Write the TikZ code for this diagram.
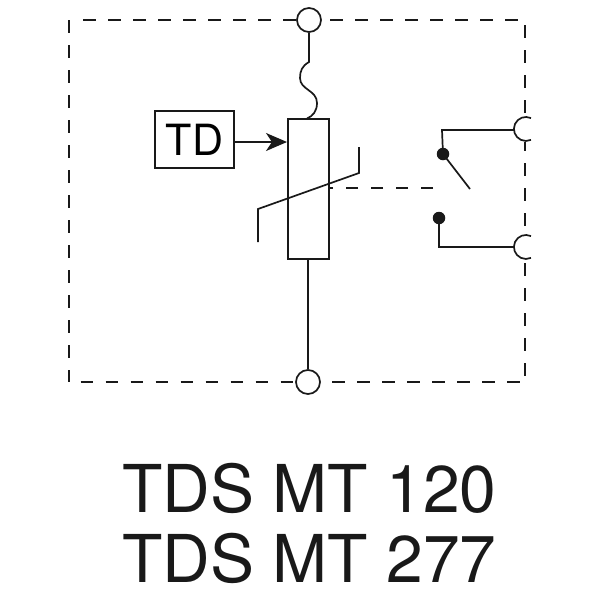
\documentclass[tikz,border=0pt]{standalone}
\usepackage{fontspec}
\setmainfont{TeX Gyre Heros}
\usetikzlibrary{arrows.meta}
\tikzset{
  x=1pt,y=-1pt,
  wire/.style={line width=1.7pt,color=black!90},
  boundary/.style={line width=1.7pt,color=black!90,dash pattern=on 12.7pt off 12.3pt},
  terminal/.style={circle,draw=black!90,fill=white,line width=1.7pt,minimum size=24pt,inner sep=0pt},
  hidden terminal/.style={circle,fill=white,minimum size=24pt,inner sep=0pt},
  contact/.style={circle,fill=black!90,minimum size=12.5pt,inner sep=0pt},
  block/.style={rectangle,draw=black!90,line width=1.7pt,inner sep=0pt},
  title/.style={font=\fontsize{66}{66}\selectfont,text=black!90,inner sep=0pt,anchor=base}
}
\begin{document}
\begin{tikzpicture}
\useasboundingbox (0,0) rectangle (600,600);
\node[terminal] (top) at (309,20) {};
\node[terminal] (bottom) at (308,382) {};
\node[hidden terminal] (no) at (526,129) {};
\node[hidden terminal] (nc) at (526,247) {};
% boundary, one run per stretch between the terminals
\draw[boundary] (83.3,20) -- (top.west);
\draw[boundary] (330,20) -- (518.8,20);
\draw[boundary] (69,20) -- (69,382);
\draw[boundary] (80.7,382) -- (bottom.west);
\draw[boundary] (332,382) -- (520,382);
\draw[boundary] (525,25) -- (525,113);
\draw[boundary,dash phase=3.5pt] (525,141.5) -- (525,235);
\draw[boundary] (525,263) -- (525,378);
\draw[wire] (531,118.1) arc[start angle=65,end angle=295,radius=12pt];
\draw[wire] (531,236.1) arc[start angle=65,end angle=295,radius=12pt];
\node[block,minimum width=79pt,minimum height=57pt,font=\fontsize{43}{43}\selectfont] (td) at (194.5,139.5) {TD};
\node[block,minimum width=41pt,minimum height=140pt] (var) at (308.5,189) {};
\coordinate (fa) at (309,62);
\coordinate (fb) at (307,118.5);
\draw[wire] (top.south) -- (fa) .. controls (302,66) and (300,71) .. (300,78)
  .. controls (300,90) and (317,90) .. (317,103) .. controls (317,111) and (313,116) .. (fb);
\draw[wire] (bottom.north) -- (308,259);
\draw[wire,-{Stealth[length=21pt,width=18pt,inset=6pt]}] (td.east |- 0,142) -- (287,142);
\draw[wire] (258,242) -- (258,209) -- (359,173) -- (359,147);
\draw[wire,dash pattern=on 12.5pt off 12.5pt,dash phase=0pt] (433,188) -- (329,188);
\node[contact] (c1) at (443,154) {};
\node[contact] (c2) at (439,218) {};
\coordinate (blade) at (470,189);
\draw[wire] (c1.center) -- (blade);
\draw[wire] (c1.center) -- (442,130) -- (no.west |- 0,130);
\draw[wire] (c2.center) -- (439,247) -- (nc.west);
\node[title] (l1) at (309.5,512) {TDS MT 120};
\node[title] (l2) at (309.5,582) {TDS MT 277};
\end{tikzpicture}
\end{document}
